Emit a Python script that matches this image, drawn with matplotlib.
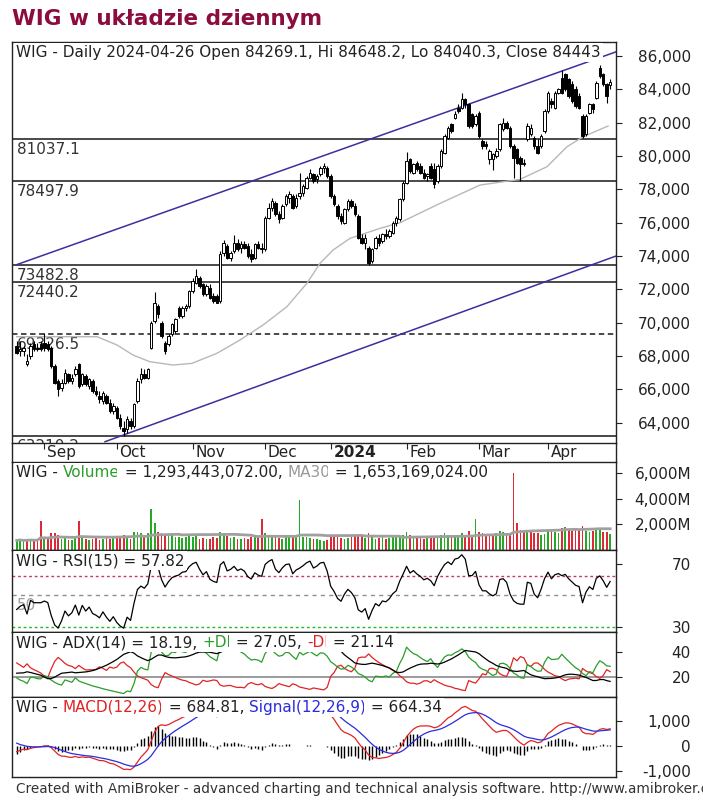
"""WIG daily chart in AmiBroker style"""

import numpy as np
import pandas as pd
import matplotlib
matplotlib.use('Agg')
import matplotlib.pyplot as plt
import matplotlib.transforms as mtransforms
from matplotlib.lines import Line2D

plt.rcParams['font.family'] = ['DejaVu Sans']
plt.rcParams['axes.unicode_minus'] = False

# ---- data ----
holidays = ['2023-11-01', '2023-12-25', '2023-12-26', '2024-01-01',
            '2024-03-29', '2024-04-01']
month_labels = ['Sep', 'Oct', 'Nov', 'Dec', '2024', 'Feb', 'Mar', 'Apr']

opens = [68600, 68300, 68300, 67500, 68000, 68700, 68500, 68700,
         68800, 68700, 68500, 67400, 66500, 66100, 66400, 66900, 66500, 66900, 67500, 66300,
         66800, 66200, 66500, 65900, 65600, 65300, 65600, 65200, 64700,
         64900, 64300, 63700, 63600, 64100, 63800, 65300, 66600, 66900, 66700, 68500,
         70100, 71000, 70000, 68800, 68700, 69300, 69500, 70900, 70400, 70900, 71000,
         71900, 72400, 72700, 72300, 71700, 72100, 71600, 71600, 71300, 74200,
         74600, 73900, 74300, 74800, 74500, 74700, 74600, 74100, 73900, 74700, 74500,
         74400, 76300, 76900, 77200, 76500, 76300, 77100, 77500, 77600, 77000,
         77600, 77800, 78100, 78700, 78900, 78600, 78900, 79300, 79300,
         78800, 77600, 77000, 76400, 76000, 76800, 77300, 77000, 76400, 75100, 74800,
         74500, 73700, 74500, 75100, 74900, 75300, 75200, 75400, 76000, 76200, 77400,
         78400, 79800, 79000, 79600, 79400, 79000, 78800, 79400, 79200, 78500, 79400,
         80200, 81100, 81900, 82300, 82900, 82900, 83400, 83100, 82500, 81900,
         82600, 80900, 80700, 79800, 79800, 80000, 80400, 81600, 82000, 81700,
         80600, 80400, 79900, 79600, 81000, 81300, 81100, 80600, 80600, 81500,
         82700, 83300, 82900, 83800, 84700, 84900, 84600, 84300, 84000, 83600,
         82400, 81300, 82600, 83100, 83500, 85300, 84900, 84300, 84269.1]
highs = [68900, 68900, 68600, 68100, 68800, 68900, 68800, 68900,
         69380, 68900, 68600, 67500, 66600, 66600, 67200, 67000, 66900, 67400, 67600, 67000,
         66900, 66700, 66600, 66200, 65900, 65900, 65700, 65400, 65200,
         65000, 64500, 64100, 64400, 64300, 65200, 66700, 67300, 67200, 67300, 70100,
         71860, 71100, 70100, 68900, 69300, 70000, 70300, 71000, 71000, 71100, 71960,
         72660, 73220, 72800, 72400, 72300, 72300, 71800, 71700, 74300, 74960,
         74700, 74300, 75260, 75000, 74900, 74900, 74800, 74400, 74800, 74900, 74800,
         76400, 77200, 77500, 77300, 76700, 77100, 77700, 77900, 77700, 77700,
         79000, 78300, 78800, 79200, 79000, 78900, 79400, 79600, 79400,
         78900, 77700, 77100, 76600, 76900, 77400, 77400, 77200, 76500, 75300, 75300,
         74600, 74500, 75200, 75300, 75400, 75600, 75600, 76100, 76400, 77500, 78500,
         80240, 79900, 79600, 79700, 79600, 79200, 79000, 79600, 79600, 79500, 80400,
         81300, 81800, 82000, 82700, 83100, 83780, 83500, 83200, 82600, 82500,
         82700, 81000, 80900, 80400, 80200, 80500, 82000, 82300, 82100, 81800,
         80700, 80500, 80000, 79800, 82000, 81900, 81200, 81000, 81300, 82800,
         83900, 83500, 83900, 84100, 85160, 85000, 84700, 84500, 84200, 83800,
         82500, 82500, 83200, 83200, 84500, 85460, 85000, 84400, 84648.2]
lows = [68100, 68000, 68000, 67400, 67800, 68300, 68300, 68300,
        68300, 68300, 67300, 66300, 65600, 65900, 66300, 66400, 66300, 66800, 66100, 66200,
        66200, 66000, 65800, 65600, 65200, 65100, 65100, 64600, 64500,
        64200, 63600, 63210, 63400, 63600, 63700, 65200, 66400, 66600, 66600, 68400,
        70000, 70300, 69100, 68100, 68600, 69200, 69400, 70300, 70300, 70700, 70900,
        71800, 72300, 72100, 71600, 71600, 71400, 71200, 71160, 71200, 74000,
        73800, 73700, 74200, 74300, 74200, 74400, 73900, 73640, 73800, 74400, 74200,
        74300, 76200, 76700, 76400, 76000, 76200, 77000, 77200, 76800, 76900,
        77400, 77600, 78000, 78600, 78400, 78400, 78800, 79000, 78700,
        77500, 77000, 76200, 75900, 75900, 76700, 76900, 76400, 75000, 74700, 74400,
        73483, 73600, 74400, 74600, 74800, 75000, 75100, 75300, 75800, 76100, 77300,
        78300, 79000, 78900, 79100, 78900, 78600, 78500, 78600, 78080, 78400, 79300,
        80100, 81000, 81400, 82200, 82600, 82800, 82900, 81700, 81700, 81800,
        81100, 80400, 80400, 79500, 79160, 79900, 80300, 81500, 81600, 80500,
        78700, 79500, 78500, 79400, 80900, 81200, 80400, 80100, 80500, 81400,
        82600, 82900, 82800, 83700, 83700, 83900, 83500, 83200, 82900, 82800,
        81080, 81200, 82500, 82600, 83400, 84700, 84200, 83180, 84040.3]
closes = [68200, 68400, 68500, 67700, 68600, 68400, 68400, 68400,
          68500, 68400, 67400, 66400, 66000, 66400, 67000, 66500, 66700, 67200, 66200, 66900,
          66300, 66600, 65900, 65700, 65400, 65800, 65200, 64700, 65000,
          64300, 63800, 63500, 64200, 63800, 65100, 66500, 66900, 66700, 67200, 70000,
          71200, 70500, 69200, 68300, 69200, 69900, 70200, 70400, 70900, 71000, 71900,
          72500, 72800, 72200, 71700, 72200, 71500, 71300, 71200, 74100, 74800,
          73900, 74200, 74800, 74400, 74700, 74500, 74000, 73800, 74700, 74500, 74400,
          76300, 76900, 77300, 76500, 76200, 77000, 77600, 77700, 76900, 77500,
          77800, 78200, 78700, 79000, 78500, 78800, 79300, 79400, 78800,
          77600, 77100, 76400, 76100, 76800, 77300, 77000, 76500, 75100, 74800, 75100,
          73600, 74400, 75100, 74800, 75300, 75200, 75500, 76000, 76300, 77400, 78400,
          79700, 79100, 79500, 79200, 79000, 78700, 78900, 78700, 78300, 79400, 80300,
          81200, 81700, 81500, 82500, 82700, 83400, 83100, 81800, 81800, 82400,
          81200, 80600, 80600, 80300, 80100, 80300, 81900, 82000, 81700, 80600,
          79900, 79600, 79500, 79500, 81800, 81700, 80600, 80200, 81200, 82700,
          83800, 83100, 83800, 84000, 83800, 84000, 83600, 83300, 83000, 82900,
          81200, 82400, 83100, 82800, 84400, 84800, 84300, 83600, 84443]
volume_m = [750, 820, 700, 760, 880, 690, 800, 2300,
            900, 850, 1300, 1350, 1200, 900, 1000, 820, 780, 950, 2300, 1000, 850,
            780, 900, 950, 800, 850, 1000, 900, 1050,
            1000, 1100, 1200, 950, 900, 1400, 1450, 1300, 1200, 1350, 3250,
            2130, 1400, 1300, 1250, 1100, 1200, 1000, 1050, 950, 1000, 1100,
            1000, 1100, 900, 950, 850, 900, 1000, 950, 1400, 1300, 1100,
            950, 1050, 900, 850, 950, 900, 1000, 1100, 950, 2400,
            1300, 1200, 1100, 1000, 950, 900, 1050, 1100, 1000, 1150, 3900,
            1050, 1000, 950, 900, 850, 800, 700, 750,
            1000, 1100, 1050, 950, 900, 950, 1000, 1100, 1200, 1100, 950,
            1300, 1000, 900, 950, 1000, 900, 950, 1100, 1000, 1050, 1200,
            1400, 1200, 1100, 1000, 950, 900, 1000, 1050, 1100, 1000, 1150,
            1300, 1200, 1100, 1000, 1150, 1300, 1100, 1500, 1200, 2400,
            1400, 1300, 1200, 1100, 1250, 1300, 1500, 1400, 1300, 1350,
            6000, 2100, 1600, 1400, 1500, 1450, 1300, 1350, 1200, 1250,
            1500, 1600, 1400, 1300, 1700, 1800, 1600, 1500, 1700, 1600,
            1900, 1500, 1400, 1500, 1700, 1600, 1400, 1450, 1293]

# grey moving average on the price pane (bar index, value)
ma_bar = [0, 9.7, 23.3, 29.1, 33.7, 38.6, 45.3, 50.8, 58, 64.7, 71.4, 78.3, 84.1,
          87.9, 91.7, 96.6, 105.3, 111.1, 122.7, 134.3, 145.9, 153.7, 159.5, 164.2, 171.4]
ma_val = [69160, 69160, 69160, 68660, 68060, 67660, 67460, 67560, 68160, 68960,
          69860, 70960, 72360, 73560, 74360, 75060, 75660, 76000, 77160, 78260,
          78600, 79360, 80560, 81160, 81800]

# horizontal levels and channel lines
levels = [81037.1, 78497.9, 73482.8, 72440.2, 69326.5, 63210.2]
dashed_level = 69326.5
upper_line_bar = [0, 173.7]
upper_line_val = [73482.8, 86250]
lower_line_bar = [25.6, 173.7]
lower_line_val = [62860, 74000]

# indicator values at the left edge of the picture (history before the first bar)
rsi_start = 41
adx_start, pdi_start, mdi_start = 23, 21, 34
macd_start, signal_start = -265, 200

price_header = "WIG - Daily 2024-04-26 Open 84269.1, Hi 84648.2, Lo 84040.3, Close 84443"

# ---- derived series ----
dates = pd.bdate_range('2023-08-22', '2024-04-26')
dates = dates[~dates.isin(pd.to_datetime(holidays))]
n = len(dates)
x = np.arange(n)
o = np.array(opens, float)
h = np.array(highs, float)
l = np.array(lows, float)
c = np.array(closes, float)
vol = np.array(volume_m, float)
month_starts = [i for i in range(1, n) if dates[i].month != dates[i - 1].month]


def smooth(values, alpha, start):
    """Recursive exponential smoothing seeded with a start value"""
    out = np.empty(len(values))
    s = start
    for i, v in enumerate(values):
        s = s + alpha * (v - s)
        out[i] = s
    return out


# RSI(15), Wilder
delta = np.r_[0, np.diff(c)]
loss0 = 250.0
gain0 = loss0 * rsi_start / (100 - rsi_start)
avg_gain = smooth(np.clip(delta, 0, None), 1 / 15, gain0)
avg_loss = smooth(np.clip(-delta, 0, None), 1 / 15, loss0)
rsi = 100 - 100 / (1 + avg_gain / avg_loss)

# MACD(12,26,9)
ema26 = smooth(c, 2 / 27, c[0])
ema12 = smooth(c, 2 / 13, c[0] + macd_start)
macd = ema12 - ema26
signal = smooth(macd, 2 / 10, signal_start)
hist = macd - signal

# ADX(14)
prev_c = np.r_[c[0], c[:-1]]
tr = np.maximum.reduce([h - l, np.abs(h - prev_c), np.abs(l - prev_c)])
up_move = np.r_[0, np.diff(h)]
down_move = np.r_[0, -np.diff(l)]
pdm = np.where((up_move > down_move) & (up_move > 0), up_move, 0.0)
mdm = np.where((down_move > up_move) & (down_move > 0), down_move, 0.0)
tr0 = 700.0
atr = smooth(tr, 1 / 14, tr0)
pdi = 100 * smooth(pdm, 1 / 14, tr0 * pdi_start / 100) / atr
mdi = 100 * smooth(mdm, 1 / 14, tr0 * mdi_start / 100) / atr
dx = 100 * np.abs(pdi - mdi) / (pdi + mdi)
adx = smooth(dx, 1 / 14, adx_start)

vol_ma30 = pd.Series(vol).rolling(30, min_periods=1).mean()
vol_up = np.r_[True, c[1:] > c[:-1]]

# ---- figure ----
W, H = 703, 800
fig = plt.figure(figsize=(W / 100, H / 100), dpi=100)
fig.patch.set_facecolor('white')

K = '#222222'
GREEN = '#2a9d2a'
RED = '#e02424'
BLUE = '#2b2be0'
FS = 11
XLIM = (-1.36, 173.7)


def add_pane(top, bottom, left=12, right=616):
    ax = fig.add_axes([left / W, 1 - bottom / H, (right - left) / W, (bottom - top) / H])
    ax.set_xlim(*XLIM)
    for s in ax.spines.values():
        s.set_color(K)
        s.set_linewidth(1.0)
    ax.yaxis.tick_right()
    ax.tick_params(axis='y', direction='out', length=4, width=0.8, color=K,
                   labelsize=FS, labelcolor=K, pad=50)
    ax.set_xticks([])
    return ax


def set_right_labels(ax, ticks, labels):
    ax.set_yticks(ticks)
    ax.set_yticklabels(labels)
    for lab in ax.get_yticklabels():
        lab.set_horizontalalignment('right')


def pane_label(ax, parts, size=FS):
    box = dict(facecolor='white', edgecolor='none', pad=1.5)
    text, col = parts[0]
    t = ax.annotate(text, xy=(0, 1), xycoords='axes fraction', xytext=(4, -3),
                    textcoords='offset pixels', ha='left', va='top', color=col,
                    fontsize=size, bbox=box, zorder=10)
    for text, col in parts[1:]:
        t = ax.annotate(text, xy=(1, 0), xycoords=t, ha='left', va='bottom',
                        color=col, fontsize=size, bbox=box, zorder=10)


def level_label(ax, text, y, color):
    off = mtransforms.ScaledTranslation(5 / 100, -3 / 100, fig.dpi_scale_trans)
    t = ax.text(0, y, text, transform=ax.get_yaxis_transform() + off, ha='left',
                va='top', fontsize=FS, color=color, zorder=1.5, clip_on=True)
    t.set_clip_box(ax.bbox)


# title
fig.text(12 / W, 1 - 25 / H, 'WIG w układzie dziennym', fontsize=15.5,
         fontweight='bold', color='#8c0c3e', ha='left', va='baseline')

# price pane
ax = add_pane(42, 443)
ax.set_ylim(62782, 86842)
set_right_labels(ax, np.arange(64000, 86001, 2000),
                 ['{:,.0f}'.format(v) for v in np.arange(64000, 86001, 2000)])

for lev in levels:
    ax.axhline(lev, color='#3a3a3a', lw=1.3, ls=(0, (3, 2)) if lev == dashed_level else '-',
               zorder=1)
    level_label(ax, '{:.1f}'.format(lev), lev, '#333333')

ax.plot(upper_line_bar, upper_line_val, color='#3c2fa0', lw=1.1, zorder=2)
ax.plot(lower_line_bar, lower_line_val, color='#3c2fa0', lw=1.1, zorder=2)
ax.plot(ma_bar, ma_val, color='#b8b8b8', lw=1.0, zorder=2.5)

up = c >= o
ax.vlines(x, l, h, color='black', lw=0.8, zorder=3)
ax.bar(x, np.maximum(np.abs(c - o), 20), bottom=np.minimum(o, c), width=0.72,
       color=np.where(up, 'white', 'black'), edgecolor='black', lw=0.7, zorder=4)

ax.set_xticks(month_starts)
ax.set_xticklabels(month_labels)
ax.tick_params(axis='x', direction='out', length=4, width=0.8, color=K,
               labelsize=FS, labelcolor=K, pad=-2.5)
shift = mtransforms.ScaledTranslation(2 / 72, 0, fig.dpi_scale_trans)
for lab in ax.get_xticklabels():
    lab.set_horizontalalignment('left')
    lab.set_transform(lab.get_transform() + shift)
    if lab.get_text() == '2024':
        lab.set_fontweight('bold')

pane_label(ax, [(price_header, K)])

# side borders of the date row
for xb in (12, 616):
    fig.add_artist(Line2D([xb / W, xb / W], [1 - 443 / H, 1 - 462 / H],
                          transform=fig.transFigure, color=K, lw=1.0))

# volume pane
axv = add_pane(462, 550)
axv.set_ylim(0, 6900)
set_right_labels(axv, [2000, 4000, 6000], ['2,000M', '4,000M', '6,000M'])
axv.bar(x, vol, width=0.5, color=np.where(vol_up, '#27a827', '#dc2a3a'), zorder=2)
axv.plot(x, vol_ma30, color='#a0a0a0', lw=2, zorder=3)
pane_label(axv, [('WIG - ', K), ('Volume', GREEN), (' = 1,293,443,072.00, ', K),
                 ('MA30', '#999999'), (' = 1,653,169,024.00', K)])

# RSI pane
axr = add_pane(550, 632)
axr.set_ylim(26.7, 78.8)
set_right_labels(axr, [30, 70], ['30', '70'])
axr.axhline(62, color='#c8385a', lw=1, ls=(0, (2, 2)), zorder=1)
axr.axhline(50, color='#909090', lw=1, ls=(0, (3, 3)), zorder=1)
axr.axhline(30, color='#22bb22', lw=1, ls=(0, (2, 2)), zorder=1)
level_label(axr, '50', 50, '#a0a0a0')
axr.plot(x, rsi, color='black', lw=0.9, zorder=3)
pane_label(axr, [('WIG - RSI(15) = 57.82', K)])

# ADX pane
axa = add_pane(632, 697)
axa.set_ylim(4, 56)
set_right_labels(axa, [20, 40], ['20', '40'])
axa.axhline(20, color='#8a8a8a', lw=1.2, zorder=1)
axa.plot(x, mdi, color=RED, lw=0.9, zorder=2)
axa.plot(x, pdi, color=GREEN, lw=0.9, zorder=2)
axa.plot(x, adx, color='black', lw=0.9, zorder=3)
pane_label(axa, [('WIG - ADX(14) = 18.19, ', K), ('+DI', GREEN), (' = 27.05, ', K),
                 ('-DI', RED), (' = 21.14', K)])

# MACD pane
axm = add_pane(697, 777)
axm.set_ylim(-1240, 1960)
set_right_labels(axm, [-1000, 0, 1000], ['-1,000', '0', '1,000'])
axm.vlines(x, 0, hist, color='black', lw=1.0, zorder=2)
axm.plot(x, macd, color=RED, lw=0.9, zorder=3)
axm.plot(x, signal, color=BLUE, lw=0.9, zorder=3)
pane_label(axm, [('WIG - ', K), ('MACD(12,26)', RED), (' = 684.81, ', K),
                 ('Signal(12,26,9)', BLUE), (' = 664.34', K)])

fig.text(16 / W, 1 - 789 / H,
         'Created with AmiBroker - advanced charting and technical analysis software. '
         'http://www.amibroker.com/',
         fontsize=9.8, color='#333333', ha='left', va='center')

fig.savefig('out.png', dpi=100, facecolor='white')
